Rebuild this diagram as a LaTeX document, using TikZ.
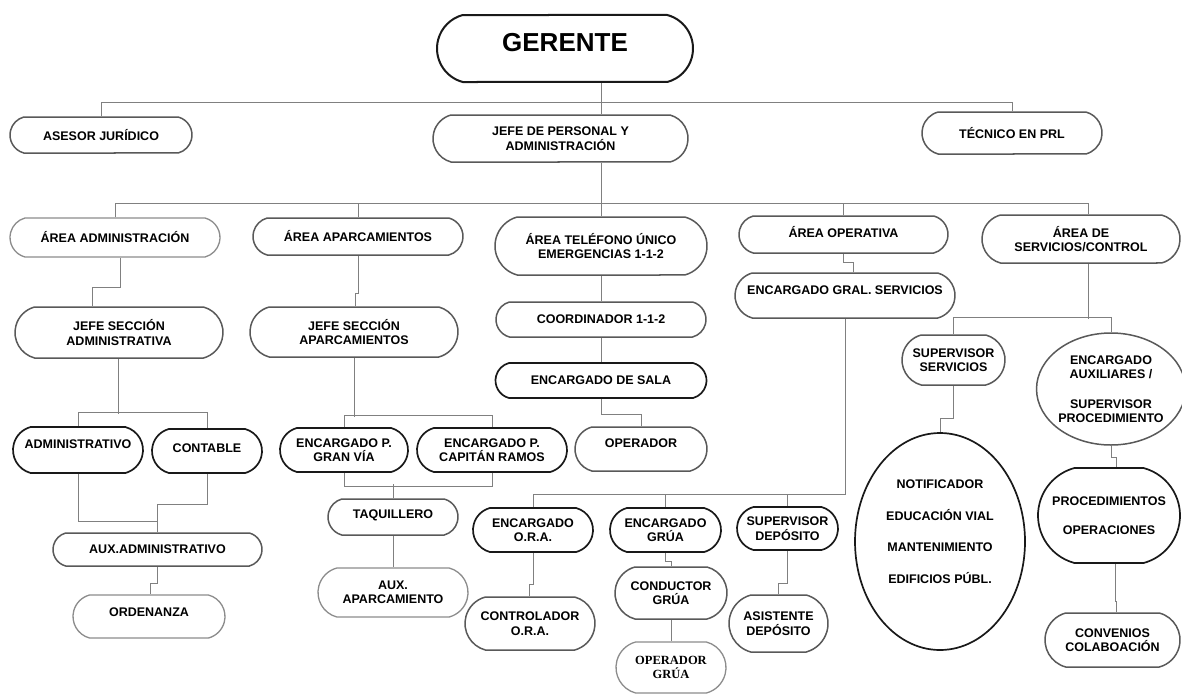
\documentclass[tikz,border=0pt]{standalone}
\usepackage{fontspec}
\setmainfont{Liberation Sans}
\newfontfamily\timesf{Liberation Serif}
\usetikzlibrary{shapes.misc,shapes.geometric}
\newcommand{\lbl}{\fontsize{12.5}{14.5}\selectfont\bfseries}

\begin{document}
\begin{tikzpicture}[x=1pt,y=-1pt,
  conn/.style={draw=black!50, line width=0.7pt},
  org/.style={rounded rectangle, rounded rectangle arc length=150, draw=black!65, line width=1.5pt, fill=white, align=center, inner xsep=0pt, inner ysep=1pt, font=\lbl},
  orgdark/.style={org, draw=black!90, line width=1.7pt},
  orglight/.style={org, draw=black!45, line width=1.3pt},
  oval/.style={ellipse, draw=black!65, line width=1.5pt, fill=white, align=center, inner sep=0pt, font=\lbl},
  sz/.style 2 args={minimum width=#1pt, minimum height=#2pt}]
\fill[white] (0,0) rectangle (1182,693);
\useasboundingbox (0,0) rectangle (1182,693);

% dirección
\node[org, sz={256}{67}, draw=black!90, line width=2pt, text depth=12pt, font=\fontsize{26}{30}\selectfont\bfseries] (gerente) at (565,48.5) {GERENTE};
\node[org, sz={182}{36}] (asesor) at (101,135) {ASESOR JURÍDICO};
\node[org, sz={255}{47}] (jefep) at (560.5,138.5) {JEFE DE PERSONAL Y\\ADMINISTRACIÓN};
\node[org, sz={180}{42}] (tecnico) at (1012,133) {TÉCNICO EN PRL};

% áreas
\node[orglight, sz={210}{39}] (aadm) at (115,237.5) {ÁREA ADMINISTRACIÓN};
\node[org, sz={210}{37}] (aapar) at (358,236.5) {ÁREA APARCAMIENTOS};
\node[org, sz={212}{58}] (atel) at (601,246) {ÁREA TELÉFONO ÚNICO\\EMERGENCIAS 1-1-2};
\node[org, sz={209}{37}, text depth=5pt] (aope) at (843.5,234.5) {ÁREA OPERATIVA};
\node[org, sz={198}{48}] (aser) at (1081,239) {ÁREA DE\\SERVICIOS/CONTROL};

% jefaturas
\node[org, sz={208}{51}] (jsadm) at (119,332.5) {JEFE SECCIÓN\\ADMINISTRATIVA};
\node[org, sz={208}{50}] (jsapar) at (354,332) {JEFE SECCIÓN\\APARCAMIENTOS};
\node[org, sz={210}{35}] (coord) at (601,319.5) {COORDINADOR 1-1-2};
\node[orgdark, sz={211}{35}] (sala) at (601,380.5) {ENCARGADO DE SALA};
\node[org, sz={220}{45}, text depth=10pt] (egral) at (845,295.5) {ENCARGADO GRAL. SERVICIOS};
\node[org, sz={103}{50}] (supserv) at (953.5,360) {SUPERVISOR\\SERVICIOS};
\node[oval, sz={140}{112}] (encaux) at (1111,389) {ENCARGADO\\AUXILIARES /\\[15pt]SUPERVISOR\\PROCEDIMIENTO};

% puestos
\node[orgdark, sz={130}{46}, text depth=12pt] (admvo) at (78,450) {ADMINISTRATIVO};
\node[orgdark, sz={110}{44}, text depth=6pt] (contable) at (207,451) {CONTABLE};
\node[orgdark, sz={128}{44}] (granvia) at (344,450) {ENCARGADO P.\\GRAN VÍA};
\node[orgdark, sz={150}{44}] (capitan) at (492,450) {ENCARGADO P.\\CAPITÁN RAMOS};
\node[org, sz={132}{44}, text depth=12pt] (operador) at (641,449) {OPERADOR};
\node[org, sz={209}{33}] (auxadm) at (157.5,549.5) {AUX.ADMINISTRATIVO};
\node[orglight, sz={152}{43}, text depth=8pt] (ordenanza) at (149,616.5) {ORDENANZA};
\node[org, sz={130}{36}, text depth=6pt] (taquillero) at (393,517) {TAQUILLERO};
\node[orglight, sz={150}{49}] (auxapar) at (393,592.5) {AUX.\\APARCAMIENTO};
\node[orgdark, sz={120}{44}] (eora) at (533,530) {ENCARGADO\\O.R.A.};
\node[orgdark, sz={111}{44}] (egrua) at (665.5,530) {ENCARGADO\\GRÚA};
\node[orgdark, sz={101}{43}] (supdep) at (787.5,528.5) {SUPERVISOR\\DEPÓSITO};
\node[org, sz={130}{53}] (contora) at (530,623.5) {CONTROLADOR\\O.R.A.};
\node[org, sz={112}{52}] (condgrua) at (671,593) {CONDUCTOR\\GRÚA};
\node[orglight, sz={110}{51}, font=\fontsize{12.5}{14.5}\selectfont\timesf\bfseries] (opgrua) at (671,667.5) {OPERADOR\\GRÚA};
\node[org, sz={99}{57}] (asisdep) at (778.5,623.5) {ASISTENTE\\DEPÓSITO};
\node[oval, sz={170}{217}, draw=black!90, line width=1.7pt, text depth=20pt] (notif) at (940,541.5) {NOTIFICADOR\\[17pt]EDUCACIÓN VIAL\\[17pt]MANTENIMIENTO\\[17pt]EDIFICIOS PÚBL.};
\node[orgdark, sz={142}{95}, rounded rectangle arc length=150] (proced) at (1109,515.5) {PROCEDIMIENTOS\\[15pt]OPERACIONES};
\node[org, sz={135}{54}] (convenios) at (1112.5,640) {CONVENIOS\\COLABOACIÓN};

% conexiones
\coordinate (b1) at (0,102);
\coordinate (b3) at (0,203);
\coordinate (b5) at (0,494);
\draw[conn] ([xshift=36pt]gerente.south) -- ([xshift=40.5pt]jefep.north);
\draw[conn] (asesor.north) -- (asesor.north |- b1) -| (tecnico.north);
\draw[conn] ([xshift=40.5pt]jefep.south) -- (atel.north);
\draw[conn] (aadm.north) -- (aadm.north |- b3) -| ([xshift=7pt]aser.north);
\foreach \n in {aapar,aope}
  \draw[conn] (\n.north) -- (\n.north |- b3);
\draw[conn] ([xshift=5pt]aadm.south) -- ++(0,30) -| ([xshift=-27pt]jsadm.north);
\draw[conn] (aapar.south) -- ++(0,38) -| ([xshift=1pt]jsapar.north);
\draw[conn] (atel.south) -- (coord.north);
\draw[conn] (coord.south) -- (sala.north);
\draw[conn] (sala.south) -- ++(0,15) -| (operador.north);
\draw[conn] (aope.south) -- ++(0,9) -| ([xshift=8pt]egral.north);
\draw[conn] (egral.south) |- (eora.north |- b5) -- (eora.north);
\foreach \n in {egrua,supdep}
  \draw[conn] (\n.north) -- (\n.north |- b5);
\draw[conn] (eora.south) -- ++(0,31) -| ([xshift=-1pt]contora.north);
\draw[conn] (egrua.south) -- ++(0,8) -| (condgrua.north);
\draw[conn] (condgrua.south) -- (opgrua.north);
\draw[conn] (supdep.south) -- ++(0,32) -| (asisdep.north);
\draw[conn] ([xshift=-1pt]jsadm.south) -- ++(0,55);
\draw[conn] (admvo.north) -- ++(0,-14) -| (contable.north);
\draw[conn] (jsapar.south) -- ++(0,59);
\draw[conn] (granvia.north) -- ++(0,-12) -| (capitan.north);
\draw[conn] (granvia.south) -- ++(0,13) -| (capitan.south);
\draw[conn] (taquillero.north) -- ++(0,-14);
\draw[conn] (taquillero.south) -- (auxapar.north);
\draw[conn] (admvo.south) -- ++(0,47) -| (auxadm.north);
\draw[conn] (contable.south) -- ++(0,30) -| (auxadm.north);
\draw[conn] (auxadm.south) -- ++(0,17) -| ([xshift=1pt]ordenanza.north);
\draw[conn] ([xshift=7pt]aser.south) -- ++(0,55);
\draw[conn] (supserv.north) -- ++(0,-17) -| (encaux.north);
\draw[conn] (supserv.south) -- ++(0,33) -| (notif.north);
\draw[conn] (encaux.south) -- ++(0,12) -| ([xshift=7pt]proced.north);
\draw[conn] ([xshift=6pt]proced.south) -- ++(0,37) -| ([xshift=3.5pt]convenios.north);
\end{tikzpicture}
\end{document}
